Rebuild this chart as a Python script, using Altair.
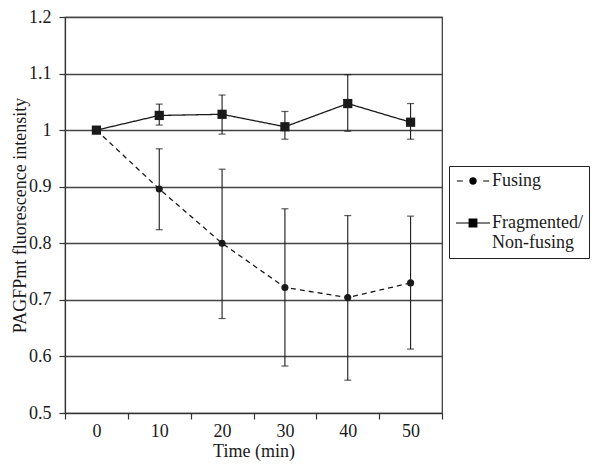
import altair as alt
import pandas as pd

times = ["0", "10", "20", "30", "40", "50"]
series_names = ["Fusing", "Fragmented/Non-fusing"]

fusing_mean = [1.0, 0.896, 0.800, 0.722, 0.704, 0.730]
fusing_hi = [1.0, 0.967, 0.931, 0.861, 0.849, 0.848]
fusing_lo = [1.0, 0.824, 0.667, 0.583, 0.558, 0.613]

frag_mean = [1.0, 1.026, 1.028, 1.006, 1.047, 1.014]
frag_hi = [1.0, 1.046, 1.062, 1.033, 1.098, 1.047]
frag_lo = [1.0, 1.009, 0.993, 0.984, 0.998, 0.984]

y_ticks = [0.5, 0.6, 0.7, 0.8, 0.9, 1.0, 1.1, 1.2]

rows = []
for i, t in enumerate(times):
    rows.append({"time": t, "series": series_names[0], "mean": fusing_mean[i],
                 "lo": fusing_lo[i], "hi": fusing_hi[i]})
    rows.append({"time": t, "series": series_names[1], "mean": frag_mean[i],
                 "lo": frag_lo[i], "hi": frag_hi[i]})
df = pd.DataFrame(rows)
err = df[df["time"] != "0"]

FONT = "Liberation Serif"
INK = "#1a1a1a"

xscale = alt.Scale(type="band", paddingInner=0, paddingOuter=0, domain=times)
x_enc = alt.X(
    "time:O", sort=times, bandPosition=0.5, scale=xscale,
    axis=alt.Axis(title="Time (min)", labelAngle=0, tickBand="extent", grid=False,
                  tickSize=6, labelPadding=3, titlePadding=2,
                  domainColor="#333", tickColor="#333", domainWidth=1.2, tickWidth=1.2),
)
yscale = alt.Scale(domain=[0.5, 1.2], nice=False, zero=False)
y_axis = alt.Axis(title="PAGFPmt fluorescence intensity", values=y_ticks, format=".1~f",
                  grid=True, gridColor="#444", gridWidth=1.3, tickSize=6, labelPadding=8,
                  titlePadding=-1, domainColor="#333", tickColor="#333",
                  domainWidth=1.2, tickWidth=1.2)

dash_scale = alt.Scale(domain=series_names, range=[[5, 4], [1, 0]])

lines = alt.Chart(df).mark_line(color=INK, strokeWidth=1.3).encode(
    x=x_enc,
    y=alt.Y("mean:Q", scale=yscale, axis=y_axis),
    strokeDash=alt.StrokeDash("series:N", scale=dash_scale, legend=None),
    detail="series:N",
)

rules = alt.Chart(err).mark_rule(color=INK, strokeWidth=1.1).encode(
    x=alt.X("time:O", sort=times, bandPosition=0.5, scale=xscale),
    y=alt.Y("lo:Q", scale=yscale),
    y2="hi:Q",
)
caps_lo = alt.Chart(err).mark_tick(color=INK, thickness=1.2, size=7).encode(
    x=alt.X("time:O", sort=times, bandPosition=0.5, scale=xscale),
    y=alt.Y("lo:Q", scale=yscale),
)
caps_hi = alt.Chart(err).mark_tick(color=INK, thickness=1.2, size=7).encode(
    x=alt.X("time:O", sort=times, bandPosition=0.5, scale=xscale),
    y=alt.Y("hi:Q", scale=yscale),
)

points = alt.Chart(df).mark_point(filled=True, color=INK, opacity=1).encode(
    x=alt.X("time:O", sort=times, bandPosition=0.5, scale=xscale),
    y=alt.Y("mean:Q", scale=yscale),
    shape=alt.Shape("series:N", scale=alt.Scale(domain=series_names, range=["circle", "square"]),
                    legend=None),
    size=alt.Size("series:N", scale=alt.Scale(domain=series_names, range=[50, 85]), legend=None),
)

# legend glyphs drawn as filled paths (thin bars for the line segments);
# coordinates span [-2, 2] so a 17 px symbol size gives a 34 px wide glyph
fusing_sym = ("M-1.9,-0.07H-1.2V0.07H-1.9Z"
              "M1.2,-0.07H1.9V0.07H1.2Z"
              "M0.44,0A0.44,0.44,0,1,1,-0.44,0A0.44,0.44,0,1,1,0.44,0Z")
frag_sym = ("M-2,-0.07H2V0.07H-2Z"
            "M-0.52,-0.52H0.52V0.52H-0.52Z")

legend_layer = alt.Chart(df).mark_point(filled=True, color="black", opacity=0).encode(
    x=alt.X("time:O", sort=times, bandPosition=0.5, scale=xscale),
    y=alt.Y("mean:Q", scale=yscale),
    shape=alt.Shape(
        "series:N",
        scale=alt.Scale(domain=series_names, range=[fusing_sym, frag_sym]),
        legend=alt.Legend(
            title=None, orient="none", legendX=384, legendY=149,
            symbolSize=289, symbolStrokeWidth=0, symbolFillColor="black",
            symbolOpacity=1, symbolOffset=9,
            labelFont=FONT, labelFontSize=18, labelColor=INK, labelLimit=300,
            labelOffset=10, labelBaseline="middle", rowPadding=24,
            padding=6, strokeColor="#222", fillColor="white",
            labelExpr="datum.label == 'Fragmented/Non-fusing' ? ['Fragmented/', 'Non-fusing'] : datum.label",
        ),
    ),
)

chart = alt.layer(lines, rules, caps_lo, caps_hi, points, legend_layer).resolve_scale(
    shape="independent", size="independent"
).properties(
    width=377, height=396,
    autosize=alt.AutoSizeParams(type="none"),
    padding={"left": 57, "top": 9, "right": 150, "bottom": 48},
    background="white",
).configure_view(
    stroke="#333", strokeWidth=1.2
).configure_axis(
    labelFont=FONT, titleFont=FONT, labelFontSize=18, titleFontSize=18,
    labelColor=INK, titleColor=INK, titleFontWeight="normal",
)

chart.save("out.html", embed_options={"renderer": "svg", "actions": False})
